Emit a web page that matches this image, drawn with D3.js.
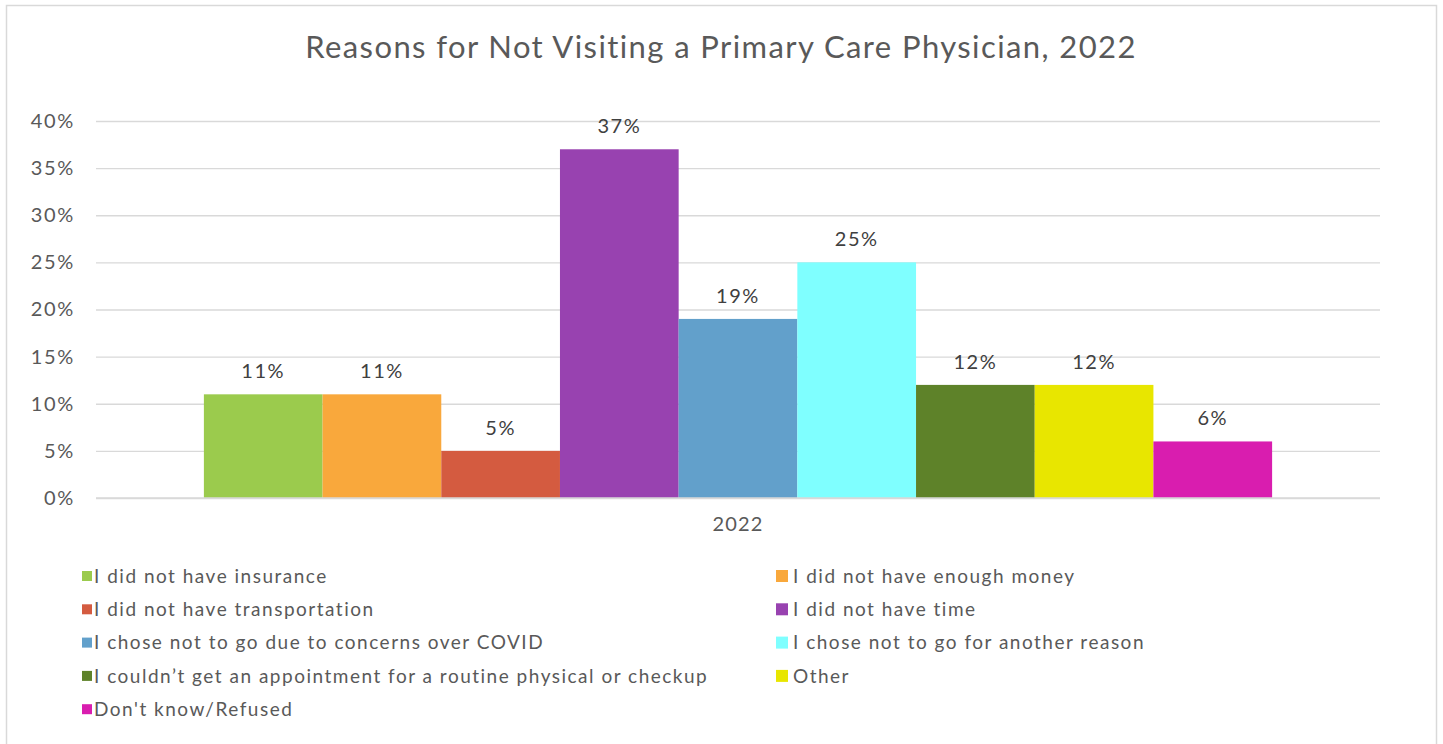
<!DOCTYPE html>
<html>
<head>
<meta charset="utf-8">
<script src="https://cdn.jsdelivr.net/npm/d3@7"></script>
<style>
  html, body { margin: 0; padding: 0; background: #fff; overflow: hidden; }
  svg { display: block; font-family: "Lato", "Noto Sans", sans-serif; }
</style>
</head>
<body>
<div id="chart"></div>
<script>
// data
const categories = ["2022"];
const seriesNames = [
  "I did not have insurance",
  "I did not have enough money",
  "I did not have transportation",
  "I did not have time",
  "I chose not to go due to concerns over COVID",
  "I chose not to go for another reason",
  "I couldn\u2019t get an appointment for a routine physical or checkup",
  "Other",
  "Don't know/Refused"
];
const seriesValues = [0.11, 0.11, 0.05, 0.37, 0.19, 0.25, 0.12, 0.12, 0.06];
const seriesColors = ["#9bcb4d", "#f9a83c", "#d45b40", "#9842b0", "#62a0cb",
                      "#7fffff", "#5e8229", "#e8e600", "#d91daf"];
const yTicks = [0, 0.05, 0.10, 0.15, 0.20, 0.25, 0.30, 0.35, 0.40];

const width = 1443, height = 744;
const margin = { top: 121, right: 63, bottom: 246, left: 96 };
const innerWidth = width - margin.left - margin.right;
const innerHeight = height - margin.top - margin.bottom;
const textColor = "#595959";

const svg = d3.select("#chart").append("svg")
  .attr("width", width)
  .attr("height", height);

// outer frame (bottom edge runs past the picture)
svg.append("path")
  .attr("d", "M6.5,744 V5.5 H1436.5 V744")
  .attr("fill", "none")
  .attr("stroke", "#d9d9d9")
  .attr("stroke-width", 1.5);

// title
svg.append("text")
  .attr("x", 721)
  .attr("y", 58)
  .attr("text-anchor", "middle")
  .attr("fill", textColor)
  .attr("font-size", 31)
  .attr("letter-spacing", 1.4)
  .text("Reasons for Not Visiting a Primary Care Physician, 2022");

const g = svg.append("g")
  .attr("transform", `translate(${margin.left},${margin.top})`);

const x0 = d3.scaleBand()
  .domain(categories)
  .range([0, innerWidth])
  .paddingInner(0)
  .paddingOuter(0.101);

const x1 = d3.scaleBand()
  .domain(seriesNames)
  .range([0, x0.bandwidth()])
  .padding(0);

const y = d3.scaleLinear()
  .domain([0, 0.40])
  .range([innerHeight, 0]);

// grid
g.append("g")
  .attr("class", "grid")
  .call(d3.axisLeft(y).tickValues(yTicks).tickSize(-innerWidth).tickFormat(""))
  .call(s => s.select(".domain").remove())
  .call(s => s.selectAll("line").attr("stroke", "#d9d9d9").attr("stroke-width", 1.3));

// y-axis labels
g.append("g")
  .call(d3.axisLeft(y).tickValues(yTicks).tickSize(0).tickPadding(21).tickFormat(d3.format(".0%")))
  .call(s => s.select(".domain").remove())
  .call(s => s.selectAll("text")
    .attr("fill", textColor)
    .attr("font-size", 20)
    .attr("letter-spacing", 1.7)
    .attr("font-family", "Lato, sans-serif"));

// bars
const group = g.selectAll(".grp")
  .data(categories)
  .enter()
  .append("g")
  .attr("transform", d => `translate(${x0(d)},0)`);

const rows = seriesNames.map((name, i) => ({ name, value: seriesValues[i], color: seriesColors[i] }));

group.selectAll("rect")
  .data(rows)
  .enter()
  .append("rect")
  .attr("x", d => x1(d.name))
  .attr("width", x1.bandwidth())
  .attr("y", d => y(d.value))
  .attr("height", d => innerHeight - y(d.value))
  .attr("fill", d => d.color);

group.selectAll(".bar-label")
  .data(rows)
  .enter()
  .append("text")
  .attr("class", "bar-label")
  .attr("text-anchor", "middle")
  .attr("x", d => x1(d.name) + x1.bandwidth() / 2)
  .attr("y", d => y(d.value) - 16)
  .attr("fill", "#404040")
  .attr("font-size", 20)
  .attr("letter-spacing", 1.5)
  .text(d => d3.format(".0%")(d.value));

// baseline
g.append("line")
  .attr("x1", 0).attr("x2", innerWidth)
  .attr("y1", innerHeight).attr("y2", innerHeight)
  .attr("stroke", "#d9d9d9")
  .attr("stroke-width", 1.5);

// x-axis
g.append("g")
  .attr("transform", `translate(0,${innerHeight})`)
  .call(d3.axisBottom(x0).tickSize(0).tickPadding(19))
  .call(s => s.select(".domain").remove())
  .call(s => s.selectAll("text")
    .attr("fill", textColor)
    .attr("font-size", 20)
    .attr("letter-spacing", 1.2)
    .attr("font-family", "Lato, sans-serif"));

// legend (2 columns)
const legend = svg.append("g");
const colX = [82, 776];
const swatch = [10, 12];
const textX = [12, 17];
const rowY0 = 576, rowStep = 33.3;

const items = legend.selectAll(".item")
  .data(rows)
  .enter()
  .append("g")
  .attr("transform", (d, i) => `translate(${colX[i % 2]},${rowY0 + Math.floor(i / 2) * rowStep})`);

items.append("rect")
  .attr("x", 0)
  .attr("y", (d, i) => -swatch[i % 2] / 2)
  .attr("width", (d, i) => swatch[i % 2])
  .attr("height", (d, i) => swatch[i % 2])
  .attr("fill", d => d.color);

items.append("text")
  .attr("x", (d, i) => textX[i % 2])
  .attr("y", 0)
  .attr("dy", "0.35em")
  .attr("fill", textColor)
  .attr("font-size", 19)
  .attr("letter-spacing", 1.5)
  .text(d => d.name);
</script>
</body>
</html>
